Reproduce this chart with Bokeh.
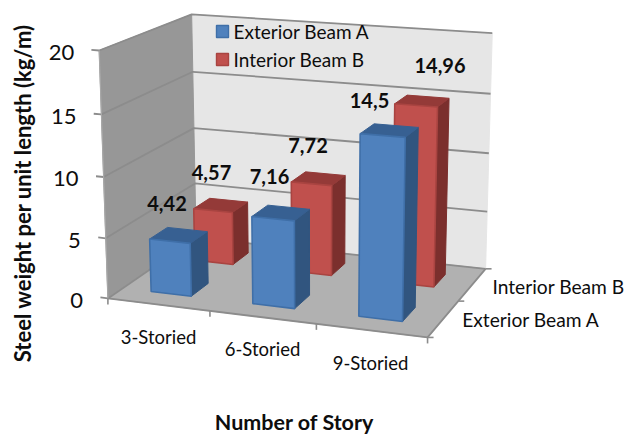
import numpy as np
from bokeh.core.properties import value
from bokeh.embed import file_html
from bokeh.models import ColumnDataSource
from bokeh.plotting import figure
from bokeh.resources import INLINE

# Chart data
stories = ["3-Storied", "6-Storied", "9-Storied"]
series_names = ["Exterior Beam A", "Interior Beam B"]
exterior_beam = [4.42, 7.16, 14.5]
interior_beam = [4.57, 7.72, 14.96]
value_labels_a = ["4,42", "7,16", "14,5"]
value_labels_b = ["4,57", "7,72", "14,96"]
y_ticks = [0, 5, 10, 15, 20]
y_max = 20

# Text placement on the page
story_label_pos = [(158, 336), (262, 348), (370, 362)]
series_label_pos = [(530.5, 319), (558, 286)]
label_pos_a = [(166.5, 203), (269, 175.5), (369, 100)]
label_pos_b = [(211, 172), (307.5, 145), (439.5, 65)]

FONT = value("Lato")
WALL_BACK = "#E6E6E6"
WALL_SIDE = "#979797"
FLOOR = "#B1B1B1"
GRID = "#8C8C8C"
BLUE = dict(front="#4F81BD", top="#376092", side="#31557F", edge="#3F6FA8")
RED = dict(front="#C0504D", top="#943A38", side="#7B2F2D", edge="#A94441")

# Perspective camera for the chart box: world (category, value, depth) to page pixels,
# solved from where the box corners and axis ticks sit on the page.
frame_world = [(0, 0, 0), (0, 5, 0), (0, 10, 0), (0, 15, 0), (0, 20, 0),
               (3, 0, 0),
               (0, 0, 2), (0, 5, 2), (0, 10, 2), (0, 15, 2), (0, 20, 2),
               (3, 0, 2), (3, 5, 2), (3, 10, 2), (3, 15, 2), (3, 20, 2)]
frame_page = [(107, 298), (105, 238), (103, 176), (101, 114), (99.5, 50),
              (427, 337),
              (197, 237), (194, 183), (193, 128), (192, 71), (191, 14),
              (485, 268), (487, 211), (488, 153), (490, 94), (492, 32)]


def solve_camera(world, page):
    rows, rhs = [], []
    for (x, y, z), (u, v) in zip(world, page):
        rows.append([x, y, z, 1, 0, 0, 0, 0, -u * x, -u * y, -u * z])
        rhs.append(u)
        rows.append([0, 0, 0, 0, x, y, z, 1, -v * x, -v * y, -v * z])
        rhs.append(v)
    sol = np.linalg.lstsq(np.array(rows, float), np.array(rhs, float), rcond=None)[0]
    return np.append(sol, 1.0).reshape(3, 4)


CAMERA = solve_camera(frame_world, frame_page)


def project(x, y, z):
    u, v, w = CAMERA @ np.array([x, y, z, 1.0])
    return u / w, v / w


def face(points):
    xy = [project(*pt) for pt in points]
    return [pt[0] for pt in xy], [pt[1] for pt in xy]


p = figure(width=625, height=435, x_range=(0, 625), y_range=(435, 0),
           output_backend="svg", toolbar_location=None, min_border=0,
           x_axis_type=None, y_axis_type=None)
p.grid.visible = False
p.outline_line_color = None
p.background_fill_color = "white"
p.border_fill_color = "white"

nx, nz = len(stories), len(series_names)


def draw_face(points, fill, line=None, width=1.0):
    xs, ys = face(points)
    p.patch(xs, ys, fill_color=fill, line_color=line or fill, line_width=width)


def draw_line(points, color=GRID, width=1.8):
    xs, ys = face(points)
    p.line(xs, ys, line_color=color, line_width=width)


# Walls and floor
draw_face([(0, 0, nz), (nx, 0, nz), (nx, y_max, nz), (0, y_max, nz)], WALL_BACK)
draw_face([(0, 0, 0), (0, 0, nz), (0, y_max, nz), (0, y_max, 0)], WALL_SIDE)
draw_face([(0, 0, 0), (nx, 0, 0), (nx, 0, nz), (0, 0, nz)], FLOOR)

# Gridlines follow the side wall and the back wall, with a tick out to the left
for t in y_ticks:
    draw_line([(-0.075, t, 0), (0, t, 0), (0, t, nz), (nx, t, nz)])
draw_line([(0, 0, 0), (nx, 0, 0), (nx, 0, nz)])
draw_line([(0, 0, 0), (0, y_max, 0)], "#A8A8A8", 1.2)

# Axis tick marks
for i in range(nx + 1):
    x0, y0 = project(i, 0, 0)
    p.segment(x0, y0, x0, y0 + 6, line_color=GRID, line_width=1.6)
for k in range(nz + 1):
    x0, y0 = project(nx, 0, k)
    p.segment(x0, y0, x0 + 6, y0, line_color=GRID, line_width=1.6)


def draw_bar(i, k, height, c):
    x0, x1 = i + 0.285, i + 0.685
    z0, z1 = k + 0.31, k + 0.70
    draw_face([(x1, 0, z0), (x1, 0, z1), (x1, height, z1), (x1, height, z0)], c["side"], c["side"])
    draw_face([(x0, height, z0), (x1, height, z0), (x1, height, z1), (x0, height, z1)], c["top"], c["top"])
    draw_face([(x0, 0, z0), (x1, 0, z0), (x1, height, z0), (x0, height, z0)], c["front"], c["edge"], 1.6)


# Rear series first so the front series overlaps it
for i, v in enumerate(interior_beam):
    draw_bar(i, 1, v, RED)
for i, v in enumerate(exterior_beam):
    draw_bar(i, 0, v, BLUE)


def draw_text(xs, ys, labels, size, bold=False, angle=0.0):
    src = ColumnDataSource(dict(x=xs, y=ys, t=labels))
    p.text("x", "y", text="t", source=src, text_font=FONT, text_font_size=size,
           text_color="#0D0D0D", text_align="center", text_baseline="middle",
           text_font_style="bold" if bold else "normal", angle=angle)


# Value labels
draw_text([q[0] for q in label_pos_a], [q[1] for q in label_pos_a], value_labels_a, "20px", True)
draw_text([q[0] for q in label_pos_b], [q[1] for q in label_pos_b], value_labels_b, "20px", True)

# Tick and category labels
for t in y_ticks:
    x0, y0 = project(0, t, 0)
    src = ColumnDataSource(dict(x=[x0 - 17.5 - 7.5], y=[y0 + 2], t=[str(t)]))
    p.text("x", "y", text="t", source=src, text_font=FONT, text_font_size="22px",
           text_color="#0D0D0D", text_align="right", text_baseline="middle")
draw_text([q[0] for q in story_label_pos], [q[1] for q in story_label_pos], stories, "18.5px")
draw_text([q[0] for q in series_label_pos], [q[1] for q in series_label_pos], series_names, "19.2px")

# Axis titles
draw_text([22], [190], ["Steel weight  per unit length (kg/m)"], "22px", True, np.pi / 2)
draw_text([294], [421], ["Number of Story"], "21.5px", True)

# Legend on the back wall
legend_rows = [(31, BLUE), (59, RED)]
for (ly, c), name in zip(legend_rows, series_names):
    p.quad(left=[216], right=[228], top=[ly - 6], bottom=[ly + 6],
           fill_color=c["front"], line_color=c["edge"], line_width=1.4)
    src = ColumnDataSource(dict(x=[233], y=[ly], t=[name]))
    p.text("x", "y", text="t", source=src, text_font=FONT, text_font_size="19px",
           text_color="#0D0D0D", text_align="left", text_baseline="middle")

open("out.html", "w").write(file_html(p, INLINE))
